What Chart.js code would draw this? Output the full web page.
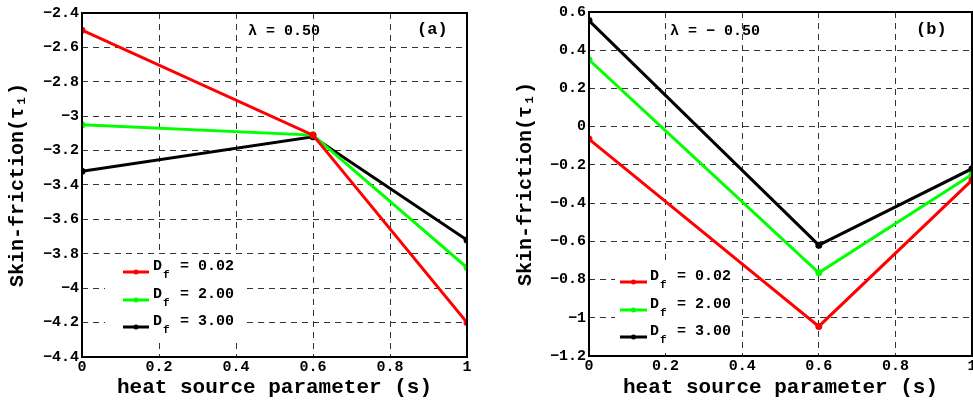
<!DOCTYPE html>
<html>
<head>
<meta charset="utf-8">
<script src="https://cdn.jsdelivr.net/npm/chart.js@4.4.0/dist/chart.umd.min.js"></script>
<style>
html, body { margin: 0; padding: 0; background: #fff; overflow: hidden; width: 973px; height: 400px; }
.panel { position: absolute; top: 0; height: 400px; }
#wa { left: 0; width: 480px; }
#wb { left: 490px; width: 500px; }
</style>
</head>
<body>
<div class="panel" id="wa"><canvas id="ca"></canvas></div>
<div class="panel" id="wb"><canvas id="cb"></canvas></div>
<script>
// heat source parameter s
const sValues = [0, 0.6, 1];
const dfLabels = ["0.02", "2.00", "3.00"];
const lineColors = ["#ff0000", "#00ff00", "#000000"];

// panel (a), lambda = 0.50
const tauA_df002 = [-2.50, -3.11, -4.20];
const tauA_df200 = [-3.05, -3.11, -3.88];
const tauA_df300 = [-3.32, -3.12, -3.72];

// panel (b), lambda = -0.50
const tauB_df002 = [-0.065, -1.045, -0.28];
const tauB_df200 = [0.35, -0.765, -0.25];
const tauB_df300 = [0.555, -0.62, -0.22];

const xTicks = [0, 0.2, 0.4, 0.6, 0.8, 1];
const yTicksA = [-4.4, -4.2, -4, -3.8, -3.6, -3.4, -3.2, -3, -2.8, -2.6, -2.4];
const yTicksB = [-1.2, -1, -0.8, -0.6, -0.4, -0.2, 0, 0.2, 0.4, 0.6];

const FONT = "'Liberation Mono', 'DejaVu Sans Mono', monospace";

function fmt(v) {
  const r = Math.round(v * 10) / 10;
  return (r < 0 ? "\u2212" : "") + Math.abs(r).toString();
}

function makeSets(series) {
  return series.map((vals, i) => ({
    label: "Df = " + dfLabels[i],
    data: sValues.map((s, k) => ({ x: s, y: vals[k] })),
    borderColor: lineColors[i],
    backgroundColor: lineColors[i],
    pointBackgroundColor: lineColors[i],
    pointBorderColor: lineColors[i],
    borderWidth: 3,
    pointRadius: 2,
    tension: 0
  }));
}

// frame, annotation texts and the legend with subscripts
const panelPlugin = {
  id: "panel",
  beforeDatasetsDraw(chart, args, o) {
    const ctx = chart.ctx;
    ctx.save();
    ctx.fillStyle = "#fff";
    ctx.fillRect(o.box[0], o.box[1], o.box[2], o.box[3]);
    ctx.restore();
  },
  afterDatasetsDraw(chart, args, o) {
    const ctx = chart.ctx;
    const a = chart.chartArea;
    ctx.save();
    // legend
    chart.data.datasets.forEach((ds, i) => {
      const y = o.legY[i];
      ctx.strokeStyle = ds.borderColor;
      ctx.lineWidth = 3;
      ctx.beginPath();
      ctx.moveTo(o.legX[0], y);
      ctx.lineTo(o.legX[1], y);
      ctx.stroke();
      ctx.fillStyle = ds.borderColor;
      ctx.beginPath();
      ctx.arc((o.legX[0] + o.legX[1]) / 2, y, 2.5, 0, Math.PI * 2);
      ctx.fill();
      ctx.fillStyle = "#000";
      ctx.textBaseline = "middle";
      ctx.textAlign = "left";
      ctx.font = "bold 15px " + FONT;
      ctx.fillText("D", o.legX[2], y - 6);
      ctx.fillText("= " + dfLabels[i], o.legX[4], y - 6);
      ctx.font = "bold 11px " + FONT;
      ctx.fillText("f", o.legX[3], y + 3);
    });
    // annotations
    ctx.fillStyle = "#000";
    ctx.textBaseline = "middle";
    ctx.textAlign = "left";
    ctx.font = "bold 15px " + FONT;
    ctx.fillText(o.lambda, o.lamX, 31);
    ctx.font = "bold 17px " + FONT;
    ctx.fillText(o.tag, o.tagX, 30);
    // frame
    ctx.strokeStyle = "#000";
    ctx.lineWidth = 2;
    ctx.strokeRect(a.left, a.top, a.right - a.left, a.bottom - a.top);
    ctx.restore();
  }
};

function makeChart(id, series, yTicks, opts) {
  const tickFont = { family: FONT, size: 15, weight: "bold" };
  return new Chart(document.getElementById(id), {
    type: "line",
    data: { datasets: makeSets(series) },
    plugins: [panelPlugin],
    options: {
      responsive: true,
      maintainAspectRatio: false,
      animation: false,
      layout: { padding: opts.padding },
      plugins: {
        legend: { display: false },
        tooltip: { enabled: false },
        panel: opts.panel
      },
      scales: {
        x: {
          type: "linear",
          min: xTicks[0],
          max: xTicks[xTicks.length - 1],
          afterBuildTicks: s => { s.ticks = xTicks.map(v => ({ value: v })); },
          afterFit: s => { s.height = opts.xHeight; },
          ticks: { font: tickFont, color: "#000", padding: 1, callback: fmt, maxRotation: 0 },
          grid: { color: "#333", lineWidth: 1, drawTicks: false },
          border: { display: false, dash: [6, 5] },
          title: {
            display: true,
            text: "heat source parameter (s)",
            color: "#000",
            font: { family: FONT, size: 21, weight: "bold" },
            padding: { top: 0, bottom: 0 }
          }
        },
        y: {
          type: "linear",
          min: yTicks[0],
          max: yTicks[yTicks.length - 1],
          afterBuildTicks: s => { s.ticks = yTicks.map(v => ({ value: v })); },
          afterFit: s => { s.width = opts.yWidth; },
          ticks: { font: tickFont, color: "#000", padding: 3, callback: fmt },
          grid: { color: "#333", lineWidth: 1, drawTicks: false },
          border: { display: false, dash: [6, 5] },
          title: {
            display: true,
            text: "Skin-friction(\u03c4\u2081)",
            color: "#000",
            font: { family: FONT, size: 20, weight: "bold" },
            padding: { top: opts.yTitlePad, bottom: 0 }
          }
        }
      }
    }
  });
}

makeChart("ca", [tauA_df002, tauA_df200, tauA_df300], yTicksA, {
  padding: { top: 13, right: 13, left: 0, bottom: 0 },
  xHeight: 43,
  yWidth: 82,
  yTitlePad: 6,
  panel: {
    box: [105, 254, 137, 86],
    legX: [123, 149, 153, 163, 180],
    legY: [272, 300, 327],
    lambda: "\u03bb = 0.50",
    lamX: 248,
    tag: "(a)",
    tagX: 417
  }
});

makeChart("cb", [tauB_df002, tauB_df200, tauB_df300], yTicksB, {
  padding: { top: 11, right: 18, left: 0, bottom: 0 },
  xHeight: 44,
  yWidth: 99,
  yTitlePad: 24,
  panel: {
    box: [125, 263, 125, 88],
    legX: [130, 157, 160, 170, 187],
    legY: [282, 310, 337],
    lambda: "\u03bb = \u2212 0.50",
    lamX: 180,
    tag: "(b)",
    tagX: 426
  }
});
</script>
</body>
</html>
